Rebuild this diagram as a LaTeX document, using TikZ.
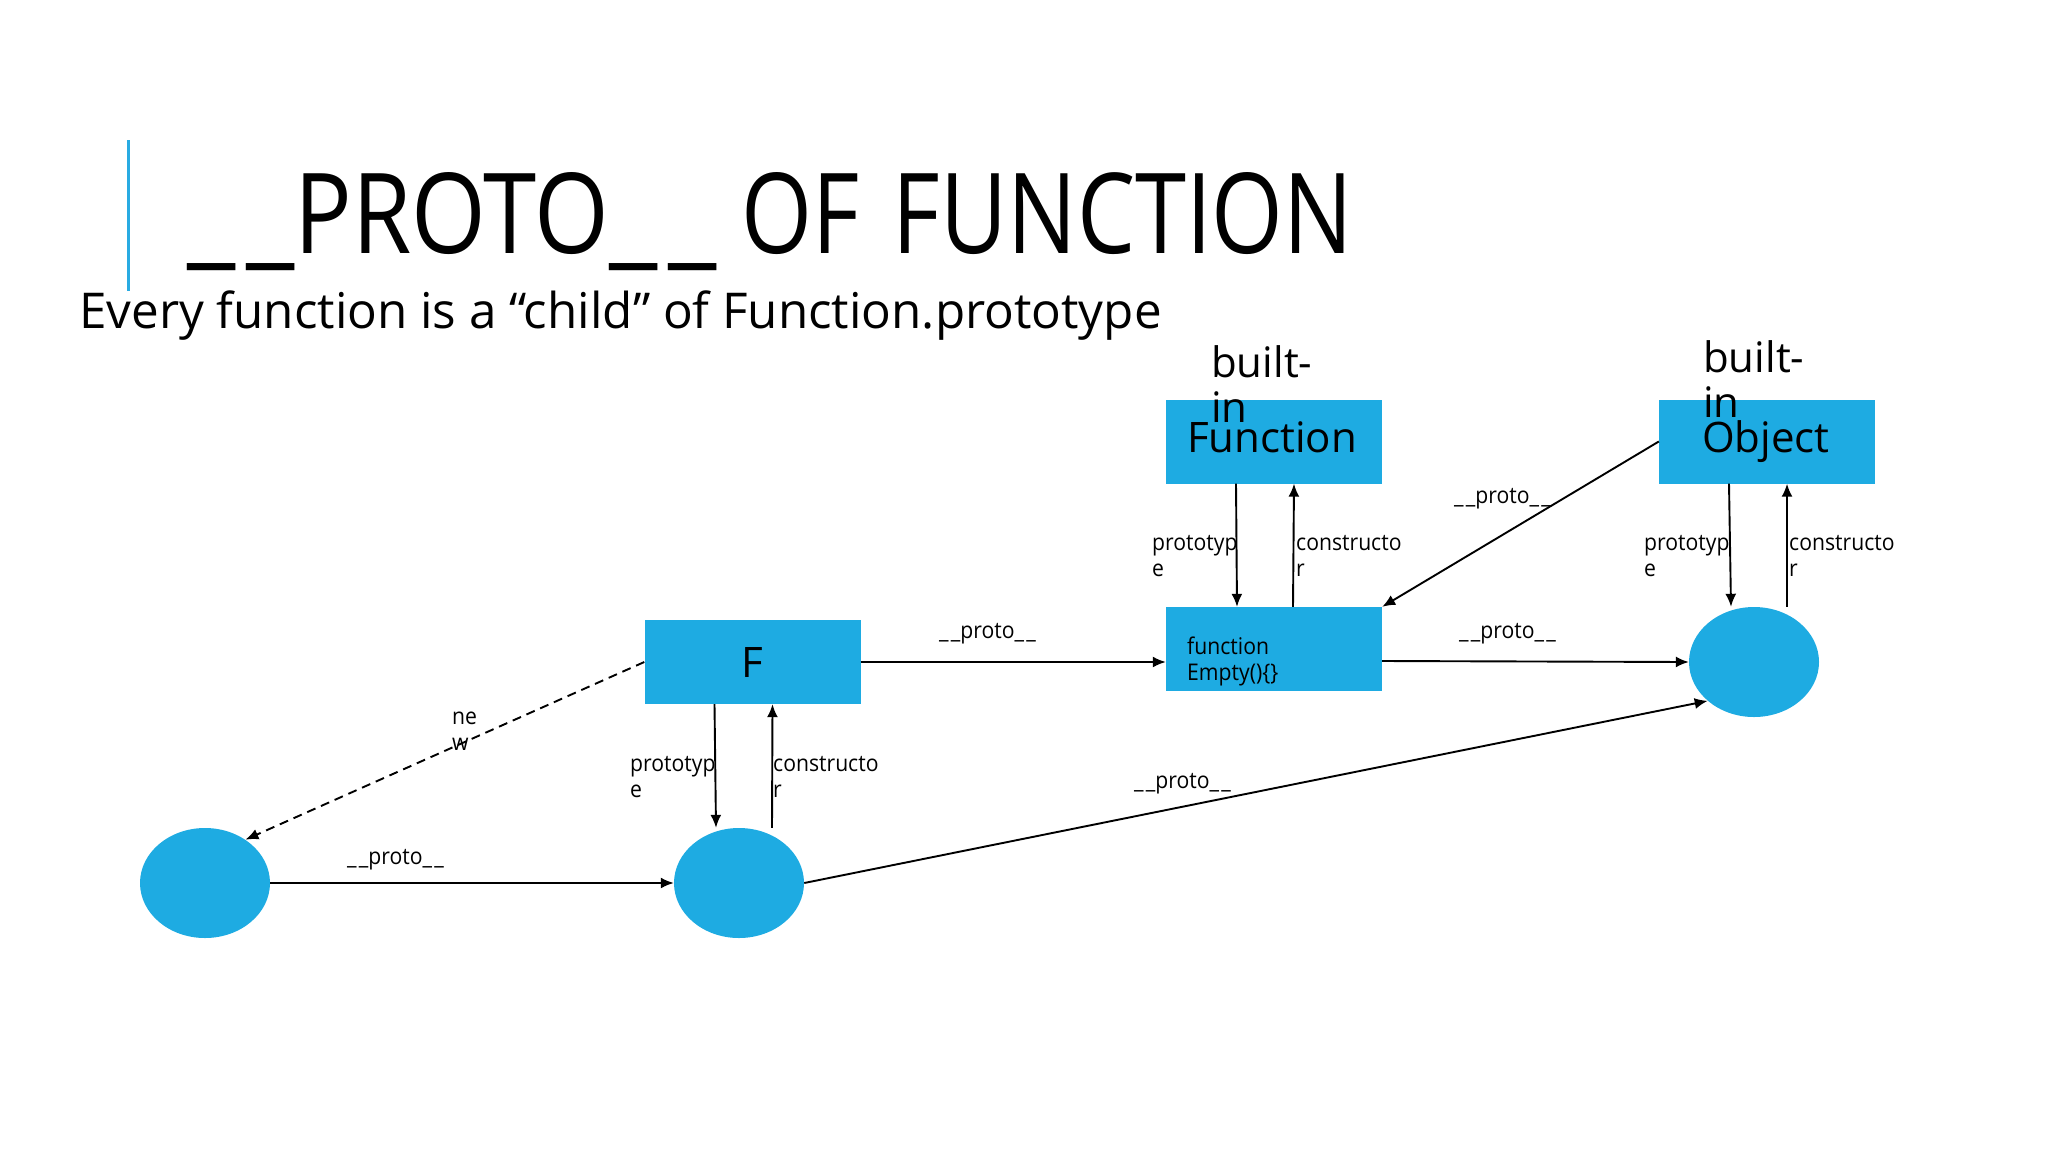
\documentclass[tikz,border=0pt]{standalone}
\usepackage{fontspec}
\usepackage{graphicx}
\setmainfont{Open Sans}
\newfontfamily\cnd[FakeStretch=0.92]{Open Sans}
\usetikzlibrary{arrows.meta,shapes.geometric}
\definecolor{boxblue}{RGB}{30,171,226}
\definecolor{barblue}{RGB}{41,171,226}
\newcommand{\twoline}[2]{\vtop{\hbox{#1}\hbox{#2}}}
\newcommand{\dus}{\_\kern0.1em\_}
\begin{document}
\begin{tikzpicture}[x=1pt,y=-1pt,
  bx/.style={fill=boxblue, minimum width=216pt, minimum height=84pt, inner sep=0pt, draw=none},
  circ/.style={ellipse, fill=boxblue, minimum width=130pt, minimum height=110pt, inner sep=0pt, draw=none},
  lbl/.style={font=\cnd\fontsize{23}{26}\selectfont, inner sep=0pt, anchor=base west},
  big/.style={font=\fontsize{42}{45}\selectfont, inner sep=0pt, anchor=base west},
  arr/.style={line width=1.9pt, -{Latex[length=13pt,width=11pt]}},
]
\useasboundingbox (0,0) rectangle (2048,1152);
\fill[white] (0,0) rectangle (2048,1152);

% title
\draw[barblue, line width=3pt] (128,140) -- (128,291);
\node[inner sep=0pt, anchor=base west] (title) at (187,253)
  {\resizebox{1165pt}{81pt}{\scalebox{1.12}[1]{\dus}PROTO\scalebox{1.12}[1]{\dus} \scalebox{0.95}[1]{OF}\hspace{0.09em} \scalebox{0.96}[1]{FUNCTION}}};
\node[inner sep=0pt, anchor=base west] (sub) at (79,328)
  {\resizebox{1082pt}{!}{Every function is a “child” of Function.prototype}};

% boxes
\node[bx] (fn) at (1274,441.5) {};
\node[bx] (obj) at (1767,441.5) {};
\node[bx] (empty) at (1274,649) {};
\node[bx, font=\fontsize{42}{45}\selectfont] (F) at (752.5,662) {F};
\node[circ] (oc) at (1754,662) {};
\node[circ] (c1) at (205,883) {};
\node[circ] (c2) at (739,883) {};

% box texts
\node[big] (fnb) at (1211,377) {\fontsize{42}{45}\selectfont\twoline{built-}{in}};
\node[big] (fnt) at (1187,452) {Function};
\node[big] (objb) at (1703,372) {\fontsize{42}{45}\selectfont\twoline{built-}{in}};
\node[big] (objt) at (1702,452) {Object};
\node[lbl] (emt) at (1187,654) {\twoline{function}{Empty()\{\}}};

% vertical arrows
\draw[arr] ([xshift=-38pt]fn.south) -- ([xshift=-37pt]empty.north);
\draw[arr] ([xshift=19pt]empty.north) -- ([xshift=20pt]fn.south);
\draw[arr] ([xshift=-38pt]obj.south) -- ([xshift=-23pt]oc.north);
\draw[arr] ([xshift=33pt]oc.north) -- ([xshift=20pt]obj.south);
\draw[arr] ([xshift=-38pt]F.south) -- ([xshift=-23pt]c2.north);
\draw[arr] ([xshift=33pt]c2.north) -- ([xshift=20pt]F.south);

% proto arrows
\draw[arr] (obj.west) -- (empty.north east);
\draw[arr] ([yshift=-12pt]empty.east) -- (oc.west);
\draw[arr] (F.east) -- ([yshift=-13pt]empty.west);
\draw[arr] (c1.east) -- (c2.west);
\draw[arr] (c2.east) -- (oc.220);
\draw[arr, dash pattern=on 9pt off 6pt] (F.west) -- (c1.47);

% labels
\node[lbl] (l1) at (1152,550) {\twoline{prototyp}{e}};
\node[lbl] (l2) at (1296,550) {\twoline{constructo}{r}};
\node[lbl] (l3) at (1644,550) {\twoline{prototyp}{e}};
\node[lbl] (l4) at (1789,550) {\twoline{constructo}{r}};
\node[lbl] (l5) at (630,771) {\twoline{prototyp}{e}};
\node[lbl] (l6) at (773,771) {\twoline{constructo}{r}};
\node[lbl] (l7) at (452,724) {\twoline{ne}{w}};
\node[lbl] (p1) at (1454,503) {\dus proto\dus};
\node[lbl] (p2) at (1459,638) {\dus proto\dus};
\node[lbl] (p3) at (939,638) {\dus proto\dus};
\node[lbl] (p4) at (347,864) {\dus proto\dus};
\node[lbl] (p5) at (1134,788) {\dus proto\dus};
\end{tikzpicture}
\end{document}
